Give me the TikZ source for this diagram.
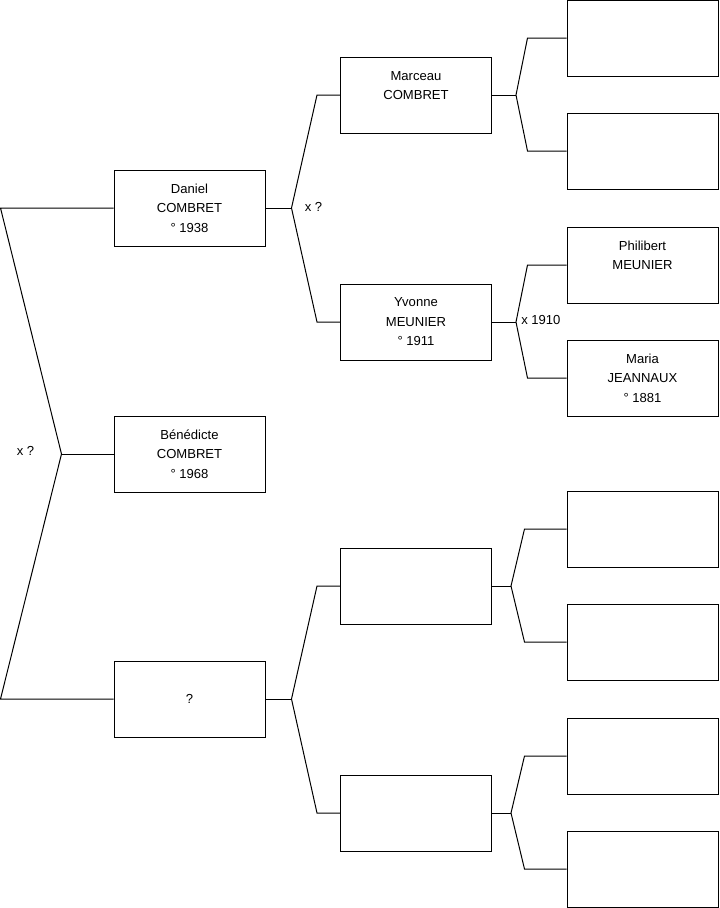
\documentclass[tikz,border=0pt]{standalone}
\usepackage{fontspec}
\setmainfont{Liberation Sans}
\usetikzlibrary{positioning, calc}

\begin{document}
\begin{tikzpicture}[
  x=0.75pt, y=-0.75pt,
  font=\fontsize{9.8}{14.6}\selectfont,
  % ── person box
  pers/.style={
    draw, line width=0.75pt, align=center, inner sep=2pt,
    minimum width=113.25pt, minimum height=57pt
  },
  % ── family links
  link/.style={draw, line width=0.75pt},
  % ── marriage labels
  mlbl/.style={inner sep=0pt, font=\fontsize{9.8}{11}\selectfont},
]
\useasboundingbox (0,0) rectangle (719,908);

%% ── generation 1
\node[pers] (DAN) at (189.5,208) {Daniel\\COMBRET\\° 1938};
\node[pers] (BEN) at (189.5,454) {Bénédicte\\COMBRET\\° 1968};
\node[pers] (UNK) at (189.5,699) {?};

%% ── generation 2
\node[pers] (MAR) at (416,95)  {Marceau\\COMBRET\\~};
\node[pers] (YVO) at (416,322) {Yvonne\\MEUNIER\\° 1911};
\node[pers] (P2a) at (416,586) {};
\node[pers] (P2b) at (416,813) {};

%% ── generation 3
\node[pers] (G1)  at (642.5,38)  {};
\node[pers] (G2)  at (642.5,151) {};
\node[pers] (PHI) at (642.5,265) {Philibert\\MEUNIER\\~};
\node[pers] (MAI) at (642.5,378) {Maria\\JEANNAUX\\° 1881};
\node[pers] (G5)  at (642.5,529) {};
\node[pers] (G6)  at (642.5,642) {};
\node[pers] (G7)  at (642.5,756) {};
\node[pers] (G8)  at (642.5,869) {};

%% ── parents of Bénédicte
\coordinate (jR)  at ($(BEN.west)+(-52,0)$);
\coordinate (kRa) at ($(DAN.west)+(-113,0)$);
\coordinate (kRb) at ($(UNK.west)+(-113,0)$);
\draw[link] (BEN.west) -- (jR);
\draw[link] (DAN.west) -- (kRa) -- (jR) -- (kRb) -- (UNK.west);
\node[mlbl, anchor=east] at ($(jR)+(-27,-3)$) {x ?};

%% ── parents of Daniel
\coordinate (jD)  at ($(DAN.east)+(26,0)$);
\coordinate (kDa) at ($(MAR.west)+(-23,0)$);
\coordinate (kDb) at ($(YVO.west)+(-23,0)$);
\draw[link] (DAN.east) -- (jD);
\draw[link] (MAR.west) -- (kDa) -- (jD) -- (kDb) -- (YVO.west);
\node[mlbl, anchor=west] at ($(jD)+(13,-1)$) {x ?};

%% ── parents of the unknown
\coordinate (jU)  at ($(UNK.east)+(26,0)$);
\coordinate (kUa) at ($(P2a.west)+(-23,0)$);
\coordinate (kUb) at ($(P2b.west)+(-23,0)$);
\draw[link] (UNK.east) -- (jU);
\draw[link] (P2a.west) -- (kUa) -- (jU) -- (kUb) -- (P2b.west);

%% ── parents of Marceau
\coordinate (jM)  at ($(MAR.east)+(24,0)$);
\coordinate (kMa) at ($(G1.west)+(-39,0)$);
\coordinate (kMb) at ($(G2.west)+(-39,0)$);
\draw[link] (MAR.east) -- (jM);
\draw[link] (G1.west) -- (kMa) -- (jM) -- (kMb) -- (G2.west);

%% ── parents of Yvonne
\coordinate (jY)  at ($(YVO.east)+(24,0)$);
\coordinate (kYa) at ($(PHI.west)+(-39,0)$);
\coordinate (kYb) at ($(MAI.west)+(-39,0)$);
\draw[link] (YVO.east) -- (jY);
\draw[link] (PHI.west) -- (kYa) -- (jY) -- (kYb) -- (MAI.west);
\node[mlbl, anchor=west] at ($(jY)+(5,-2)$) {x 1910};

%% ── upper and lower blank pairs
\coordinate (jA)  at ($(P2a.east)+(19,0)$);
\coordinate (kAa) at ($(G5.west)+(-42,0)$);
\coordinate (kAb) at ($(G6.west)+(-42,0)$);
\draw[link] (P2a.east) -- (jA);
\draw[link] (G5.west) -- (kAa) -- (jA) -- (kAb) -- (G6.west);

\coordinate (jB)  at ($(P2b.east)+(19,0)$);
\coordinate (kBa) at ($(G7.west)+(-42,0)$);
\coordinate (kBb) at ($(G8.west)+(-42,0)$);
\draw[link] (P2b.east) -- (jB);
\draw[link] (G7.west) -- (kBa) -- (jB) -- (kBb) -- (G8.west);

\end{tikzpicture}
\end{document}
